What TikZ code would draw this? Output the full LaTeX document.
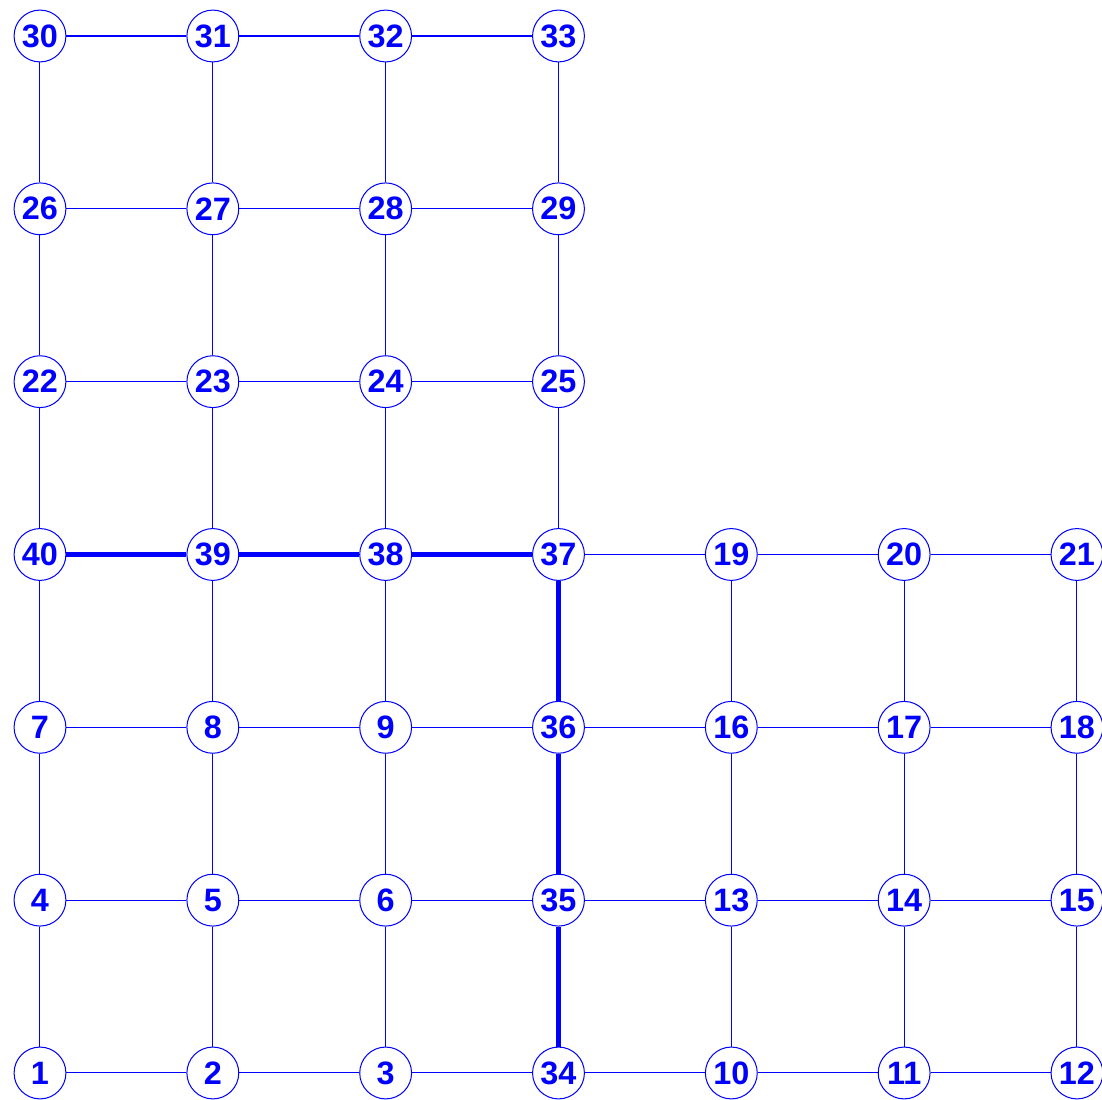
\documentclass[tikz,border=0pt]{standalone}
\usepackage{fontspec}
\setmainfont{Liberation Sans}
\usetikzlibrary{positioning}

\begin{document}
\begin{tikzpicture}[x=3cm,y=3cm,
  vtx/.style={circle,draw=blue,fill=white,line width=0.5pt,minimum size=0.9cm,
    inner sep=0pt,text=blue,font=\bfseries\fontsize{16}{16}\selectfont},
  lnk/.style={blue,line width=0.5pt},
  hot/.style={blue,line width=2pt}]
  \useasboundingbox (-0.2314,-0.1562) rectangle (6.1448,6.2084);
  % grid nodes: label/column/row
  \foreach \k/\c/\r in {30/0/6,31/1/6,32/2/6,33/3/6,
                        26/0/5,27/1/5,28/2/5,29/3/5,
                        22/0/4,23/1/4,24/2/4,25/3/4,
                        40/0/3,39/1/3,38/2/3,37/3/3,19/4/3,20/5/3,21/6/3,
                        7/0/2,8/1/2,9/2/2,36/3/2,16/4/2,17/5/2,18/6/2,
                        4/0/1,5/1/1,6/2/1,35/3/1,13/4/1,14/5/1,15/6/1,
                        1/0/0,2/1/0,3/2/0,34/3/0,10/4/0,11/5/0,12/6/0}
    \node[vtx] (n\k) at (\c,\r) {\k};
  % thin links
  \foreach \a/\b in {30/31,31/32,32/33,26/27,27/28,28/29,22/23,23/24,24/25,
                     37/19,19/20,20/21,7/8,8/9,9/36,36/16,16/17,17/18,
                     4/5,5/6,6/35,35/13,13/14,14/15,1/2,2/3,3/34,34/10,10/11,11/12,
                     30/26,26/22,22/40,40/7,7/4,4/1,
                     31/27,27/23,23/39,39/8,8/5,5/2,
                     32/28,28/24,24/38,38/9,9/6,6/3,
                     33/29,29/25,25/37,
                     19/16,16/13,13/10,20/17,17/14,14/11,21/18,18/15,15/12}
    \draw[lnk] (n\a) -- (n\b);
  % highlighted path
  \foreach \a/\b in {40/39,39/38,38/37,37/36,36/35,35/34}
    \draw[hot] (n\a) -- (n\b);
\end{tikzpicture}
\end{document}
